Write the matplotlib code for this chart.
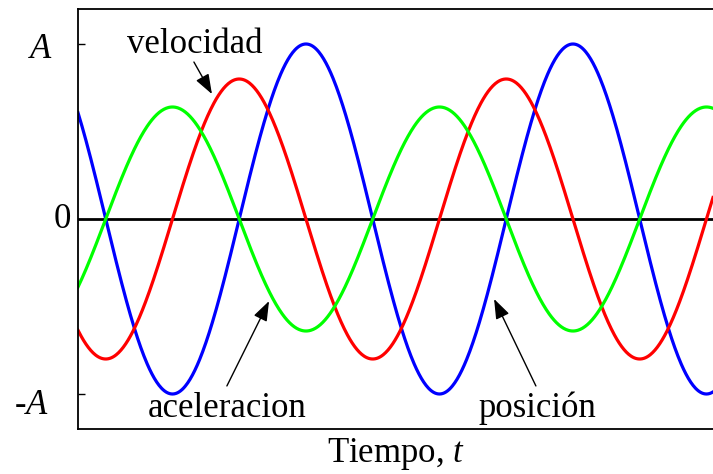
import numpy as np
import matplotlib
matplotlib.use("Agg")
import matplotlib.pyplot as plt

plt.rcParams['font.family'] = ['Liberation Serif', 'DejaVu Serif']
plt.rcParams['mathtext.fontset'] = 'custom'
plt.rcParams['mathtext.rm'] = 'Liberation Serif'
plt.rcParams['mathtext.it'] = 'Liberation Serif:italic'

# oscillator parameters
amplitude = 1.0
omega = 0.8
phase = 0.918
t_end = 18.68

series_names = ['posición', 'velocidad', 'aceleracion']
series_colors = ['#0000ff', '#ff0000', '#00ff00']

ytick_values = [amplitude, 0.0, -amplitude]
ytick_labels = ['$A$', '0', '-$A$']

# label text position and arrow (tail, tip) in data coordinates
label_pos = {'velocidad': (3.44, 0.949),
             'aceleracion': (4.40, -1.131),
             'posición': (13.5, -1.131)}
arrow_pts = {'velocidad': ((3.41, 0.897), (3.94, 0.714)),
             'aceleracion': ((4.38, -0.954), (5.62, -0.469)),
             'posición': ((13.47, -0.954), (12.24, -0.457))}

t = np.linspace(0, t_end, 800)
theta = omega * t + phase
pos = amplitude * np.cos(theta)
vel = -amplitude * omega * np.sin(theta)
acc = -amplitude * omega**2 * np.cos(theta)
curves = dict(zip(series_names, [pos, vel, acc]))

fig = plt.figure(figsize=(7.13, 4.74), dpi=100)
ax = fig.add_axes([78 / 713, 45 / 474, 1 - 78 / 713, 420 / 474])

ax.axhline(0, color='black', lw=2.0, zorder=1)
for name, col in zip(series_names, series_colors):
    ax.plot(t, curves[name], color=col, lw=2.3, zorder=2)

ax.set_xlim(0, t_end)
ax.set_ylim(-1.2, 1.2)
ax.set_xticks([])
ax.set_yticks([amplitude, -amplitude])
ax.set_yticklabels([])
ax.tick_params(axis='y', direction='in', length=5, width=1)
ax.spines['right'].set_visible(False)
for s in ['left', 'top', 'bottom']:
    ax.spines[s].set_linewidth(1.3)

# y labels placed by hand (they are not aligned to the same edge)
ylab_x = [-0.059, -0.024, -0.073]
ylab_dy = [-5, 0, -11]
for yv, lab, xf, dy in zip(ytick_values, ytick_labels, ylab_x, ylab_dy):
    ax.annotate(lab, xy=(xf, yv), xycoords=('axes fraction', 'data'),
                xytext=(0, dy), textcoords='offset pixels',
                ha='center', va='center', fontsize=25, annotation_clip=False)

ax.set_xlabel('Tiempo, $t$', fontsize=25, labelpad=5)

for name in series_names:
    lx, ly = label_pos[name]
    ax.text(lx, ly, name, fontsize=25, ha='center', va='baseline')
    tail, tip = arrow_pts[name]
    ax.annotate('', xy=tip, xytext=tail,
                arrowprops=dict(arrowstyle='-|>,head_length=0.55,head_width=0.2',
                                color='black', lw=1.0,
                                mutation_scale=22, shrinkA=0, shrinkB=0))

fig.savefig('out.png', dpi=100)
